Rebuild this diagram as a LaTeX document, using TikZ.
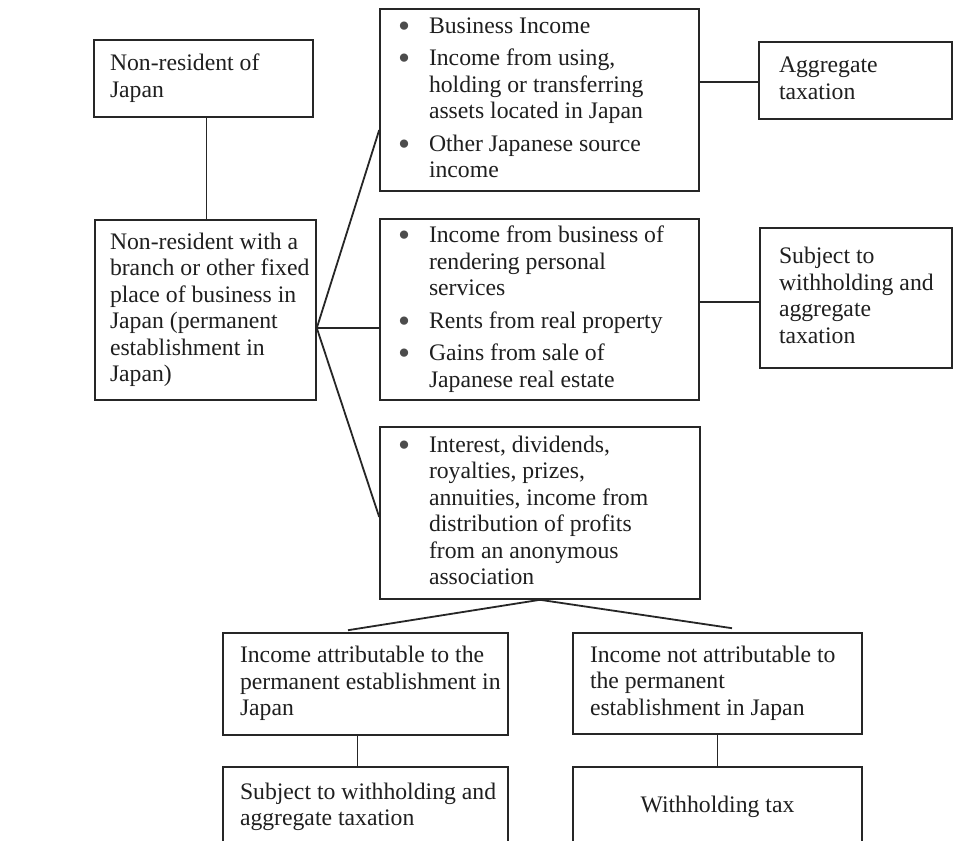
\documentclass[tikz,border=0pt]{standalone}
\usepackage{fontspec}
\usepackage{graphicx}
\setmainfont{Liberation Serif}
\usetikzlibrary{calc}
\newcommand\bxt[2]{\makebox[#1][l]{\begin{tabular}{@{}l@{}}#2\end{tabular}}}
\newcommand\bxc[2]{\makebox[#1][c]{\begin{tabular}{@{}c@{}}#2\end{tabular}}}
\newcommand\bul{\makebox[31pt][l]{\raisebox{-4pt}{\color{black!70}\scalebox{1.45}{\textbullet}}}}
\newcommand\ind{\hspace*{31pt}}
\begin{document}
\begin{tikzpicture}[x=1pt,y=-1pt,
  box/.style={draw=black!85, line width=1.6pt, inner sep=0pt, text=black!88,
    font=\fontsize{23.7pt}{26.5pt}\selectfont},
  conn/.style={draw=black!85, line width=1.8pt}]
\clip (0,0) rectangle (962,841);
\fill[white] (0,0) rectangle (962,841);

\node[box, minimum width=219pt, minimum height=77pt] (A) at (203.5,78.5)
  {\bxt{187pt}{Non-resident of\\Japan}};
\node[box, minimum width=221pt, minimum height=180pt] (B) at (205.5,310)
  {\bxt{191pt}{Non-resident with a\\branch or other fixed\\place of business in\\Japan (permanent\\establishment in\\Japan)}};

\node[box, minimum width=319pt, minimum height=182pt] (C1) at (539.5,100)
  {\bxt{283pt}{\bul Business Income\\[6pt]\bul Income from using,\\\ind holding or transferring\\\ind assets located in Japan\\[6pt]\bul Other Japanese source\\\ind income}};
\node[box, minimum width=319pt, minimum height=181pt] (C2) at (539.5,309.5)
  {\bxt{283pt}{\bul Income from business of\\\ind rendering personal\\\ind services\\[6pt]\bul Rents from real property\\[6pt]\bul Gains from sale of\\\ind Japanese real estate}};
\node[box, minimum width=320pt, minimum height=172pt] (C3) at (540,513)
  {\bxt{284pt}{\bul Interest, dividends,\\\ind royalties, prizes,\\\ind annuities, income from\\\ind distribution of profits\\\ind from an anonymous\\\ind association}};

\node[box, minimum width=193pt, minimum height=77pt] (D1) at (855.5,80.5)
  {\bxt{153pt}{Aggregate\\taxation}};
\node[box, minimum width=192pt, minimum height=140pt] (D2) at (856,298)
  {\bxt{154pt}{Subject to\\withholding and\\aggregate\\taxation}};

\node[box, minimum width=285pt, minimum height=102pt] (E1) at (365.5,684)
  {\bxt{251pt}{Income attributable to the\\permanent establishment in\\Japan}};
\node[box, minimum width=289pt, minimum height=101pt] (E2) at (717.5,683.5)
  {\bxt{255pt}{Income not attributable to\\the permanent\\establishment in Japan}};

\node[box, minimum width=285pt, minimum height=80pt] (F1) at (365.5,807)
  {\bxt{251pt}{Subject to withholding and\\aggregate taxation}};
\node[box, minimum width=289pt, minimum height=80pt] (F2) at (717.5,807)
  {\bxc{255pt}{Withholding tax}};

% connectors
\draw[conn] ([xshift=3pt]A.south) -- ([xshift=3pt]A.south |- B.north);
\coordinate (bp) at ([yshift=-18pt]B.east);
\draw[conn] (bp) -- ([yshift=-30pt]C1.west);
\draw[conn] (bp) -- (bp -| C2.west);
\draw[conn] (bp) -- ([yshift=-4pt]C3.west);
\draw[conn] ([yshift=-1.5pt]D1.west -| C1.east) -- ([yshift=-1.5pt]D1.west);
\draw[conn] ([yshift=-4pt]D2.west -| C2.east) -- ([yshift=-4pt]D2.west);
\draw[conn] (C3.south) -- ([xshift=-17.5pt,yshift=2pt]E1.north);
\draw[conn] (C3.south) -- ([xshift=14.5pt,yshift=4pt]E2.north);
\draw[conn] ([xshift=-8pt]E1.south) -- ([xshift=-8pt]E1.south |- F1.north);
\draw[conn] (E2.south) -- (E2.south |- F2.north);
\end{tikzpicture}
\end{document}
